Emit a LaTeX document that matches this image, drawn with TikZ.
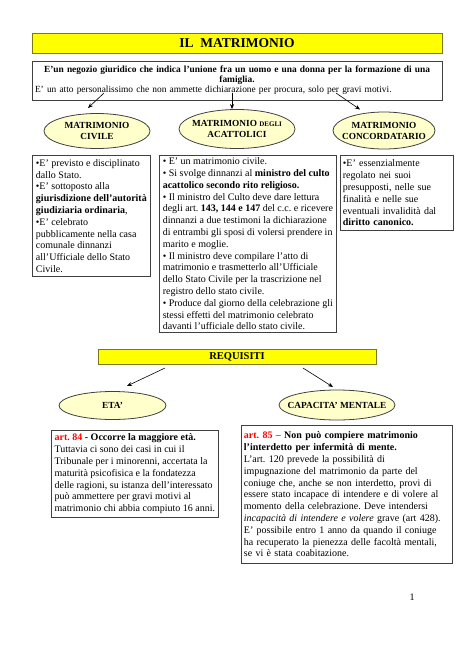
\documentclass[tikz,border=0pt]{standalone}
\usepackage{fontspec}
\setmainfont{Liberation Serif}
\usepackage{tikz}
\usetikzlibrary{shapes.geometric, arrows.meta}
\frenchspacing
\definecolor{giallo}{HTML}{FFFF00}
\definecolor{oliva}{HTML}{7A7A10}
\definecolor{crema}{HTML}{FFFFCC}
\definecolor{bordo}{HTML}{404040}
\definecolor{rosso}{HTML}{FF0000}
\tikzset{
  intestazione/.style={rectangle, draw=oliva, line width=0.9pt, fill=giallo, align=center, inner sep=0pt},
  tipo/.style={ellipse, draw=bordo, line width=0.8pt, fill=crema, align=center, inner xsep=-4pt, inner ysep=0pt, font=\bfseries\fontsize{9.3}{11}\selectfont},
  riquadro/.style={rectangle, draw=bordo, line width=0.8pt, fill=white, anchor=north west, align=left, inner xsep=1pt, inner ysep=0pt, font=\fontsize{10}{11.8}\selectfont},
  freccia/.style={line width=0.6pt, -{Stealth[length=5pt, width=4pt]}}
}

\begin{document}
\begin{tikzpicture}[x=1pt, y=-1pt]
        \useasboundingbox (0,0) rectangle (474,670);

        % Titolo e definizione
        \node (titolo) [intestazione, minimum width=410, minimum height=20, font=\bfseries\fontsize{13.5}{15}\selectfont] at (237,43.5) {IL\ \ MATRIMONIO};
        \node (definizione) [rectangle, draw=bordo, line width=0.8pt, minimum width=410, minimum height=39, text width=404, inner sep=0pt, align=left, font=\fontsize{9.4}{10}\selectfont] at (237,80.5)
          {{\centering\bfseries E’un negozio giuridico che indica l’unione fra un uomo e una donna per la formazione di una\\ famiglia.\par}
           E’ un atto personalissimo che non ammette dichiarazione per procura, solo per gravi motivi.};

        % Tipi di matrimonio
        \node (civile) [tipo, minimum width=106, minimum height=35] at (97,131) {MATRIMONIO\\CIVILE};
        \node (acattolici) [tipo, minimum width=116, minimum height=39] at (237,129) {MATRIMONIO {\fontsize{7}{8}\selectfont DEGLI}\\ACATTOLICI};
        \node (concordatario) [tipo, inner xsep=-8pt, minimum width=102, minimum height=37] at (384,130.5) {MATRIMONIO\\CONCORDATARIO};

        % Frecce dalla definizione
        \coordinate (da1) at (104,93);
        \coordinate (a1) at (88,108);
        \coordinate (da2) at (232,93);
        \coordinate (da3) at (336,93);
        \coordinate (a3) at (360,109.5);
        \draw [freccia] (da1) -- (a1);
        \draw [freccia] (da2) -- (da2 |- acattolici.north);
        \draw [freccia] (da3) -- (a3);

        % Riquadri descrittivi
        \node (testocivile) [riquadro, minimum width=118, minimum height=121] at (32,155)
          {•E’ previsto e disciplinato\\
           dallo Stato.\\
           •E’ sottoposto alla\\
           \textbf{giurisdizione dell’autorità}\\
           \textbf{giudiziaria ordinaria},\\
           •E’ celebrato\\
           pubblicamente nella casa\\
           comunale dinnanzi\\
           all’Ufficiale dello Stato\\
           Civile.};
        \node (testoacattolici) [riquadro, minimum width=177, minimum height=177] at (159,155)
          {• E’ un matrimonio civile.\\
           • Si svolge dinnanzi al \textbf{ministro del culto}\\
           \textbf{acattolico secondo rito religioso.}\\
           • Il ministro del Culto deve dare lettura\\
           degli art. \textbf{143, 144 e 147} del c.c. e ricevere\\
           dinnanzi a due testimoni la dichiarazione\\
           di entrambi gli sposi di volersi prendere in\\
           marito e moglie.\\
           • Il ministro deve compilare l’atto di\\
           matrimonio e trasmetterlo all’Ufficiale\\
           dello Stato Civile per la trascrizione nel\\
           registro dello stato civile.\\
           • Produce dal giorno della celebrazione gli\\
           stessi effetti del matrimonio celebrato\\
           davanti l’ufficiale dello stato civile.};
        \node (testoconcordatario) [riquadro, inner xsep=2.5pt, text width=108, minimum height=75] at (340,155)
          {•E’ essenzialmente\\
           regolato nei suoi\\
           presupposti, nelle sue\\
           finalità e nelle sue\\
           eventuali invalidità dal\\
           \textbf{diritto canonico.}};

        % Requisiti
        \node (requisiti) [intestazione, minimum width=278, minimum height=15, font=\bfseries\fontsize{10.5}{12}\selectfont] at (237,356.5) {REQUISITI};
        \node (eta) [tipo, minimum width=107, minimum height=28] at (112.5,405.5) {ETA’};
        \node (capacita) [tipo, inner xsep=-12pt, minimum width=116, minimum height=30] at (337,405) {CAPACITA’ MENTALE};

        \coordinate (da4) at (165,368);
        \coordinate (a4) at (127,386);
        \coordinate (da5) at (303,368);
        \coordinate (a5) at (333,387);
        \draw [freccia] (da4) -- (a4);
        \draw [freccia] (da5) -- (a5);

        \node (art84) [riquadro, minimum width=167, minimum height=87] at (51,430)
          {\textbf{\textcolor{rosso}{art. 84} - Occorre la maggiore età.}\\
           Tuttavia ci sono dei casi in cui il\\
           Tribunale per i minorenni, accertata la\\
           maturità psicofisica e la fondatezza\\
           delle ragioni, su istanza dell’interessato\\
           può ammettere per gravi motivi al\\
           matrimonio chi abbia compiuto 16 anni.};
        \node (art85) [riquadro, inner xsep=2.5pt, text width=206, minimum height=138] at (241,425)
          {\textbf{\textcolor{rosso}{art. 85 –} Non può compiere matrimonio}\\
           \textbf{l’interdetto per infermità di mente.}\\
           L’art. 120 prevede la possibilità di\\
           impugnazione del matrimonio da parte del\\
           coniuge che, anche se non interdetto, provi di\\
           essere stato incapace di intendere e di volere al\\
           momento della celebrazione. Deve intendersi\\
           \textit{incapacità di intendere e volere} grave (art 428).\\
           E’ possibile entro 1 anno da quando il coniuge\\
           ha recuperato la pienezza delle facoltà mentali,\\
           se vi è stata coabitazione.};

        % Numero di pagina
        \node (pagina) [font=\fontsize{10}{12}\selectfont] at (412,597) {1};

\end{tikzpicture}
\end{document}
